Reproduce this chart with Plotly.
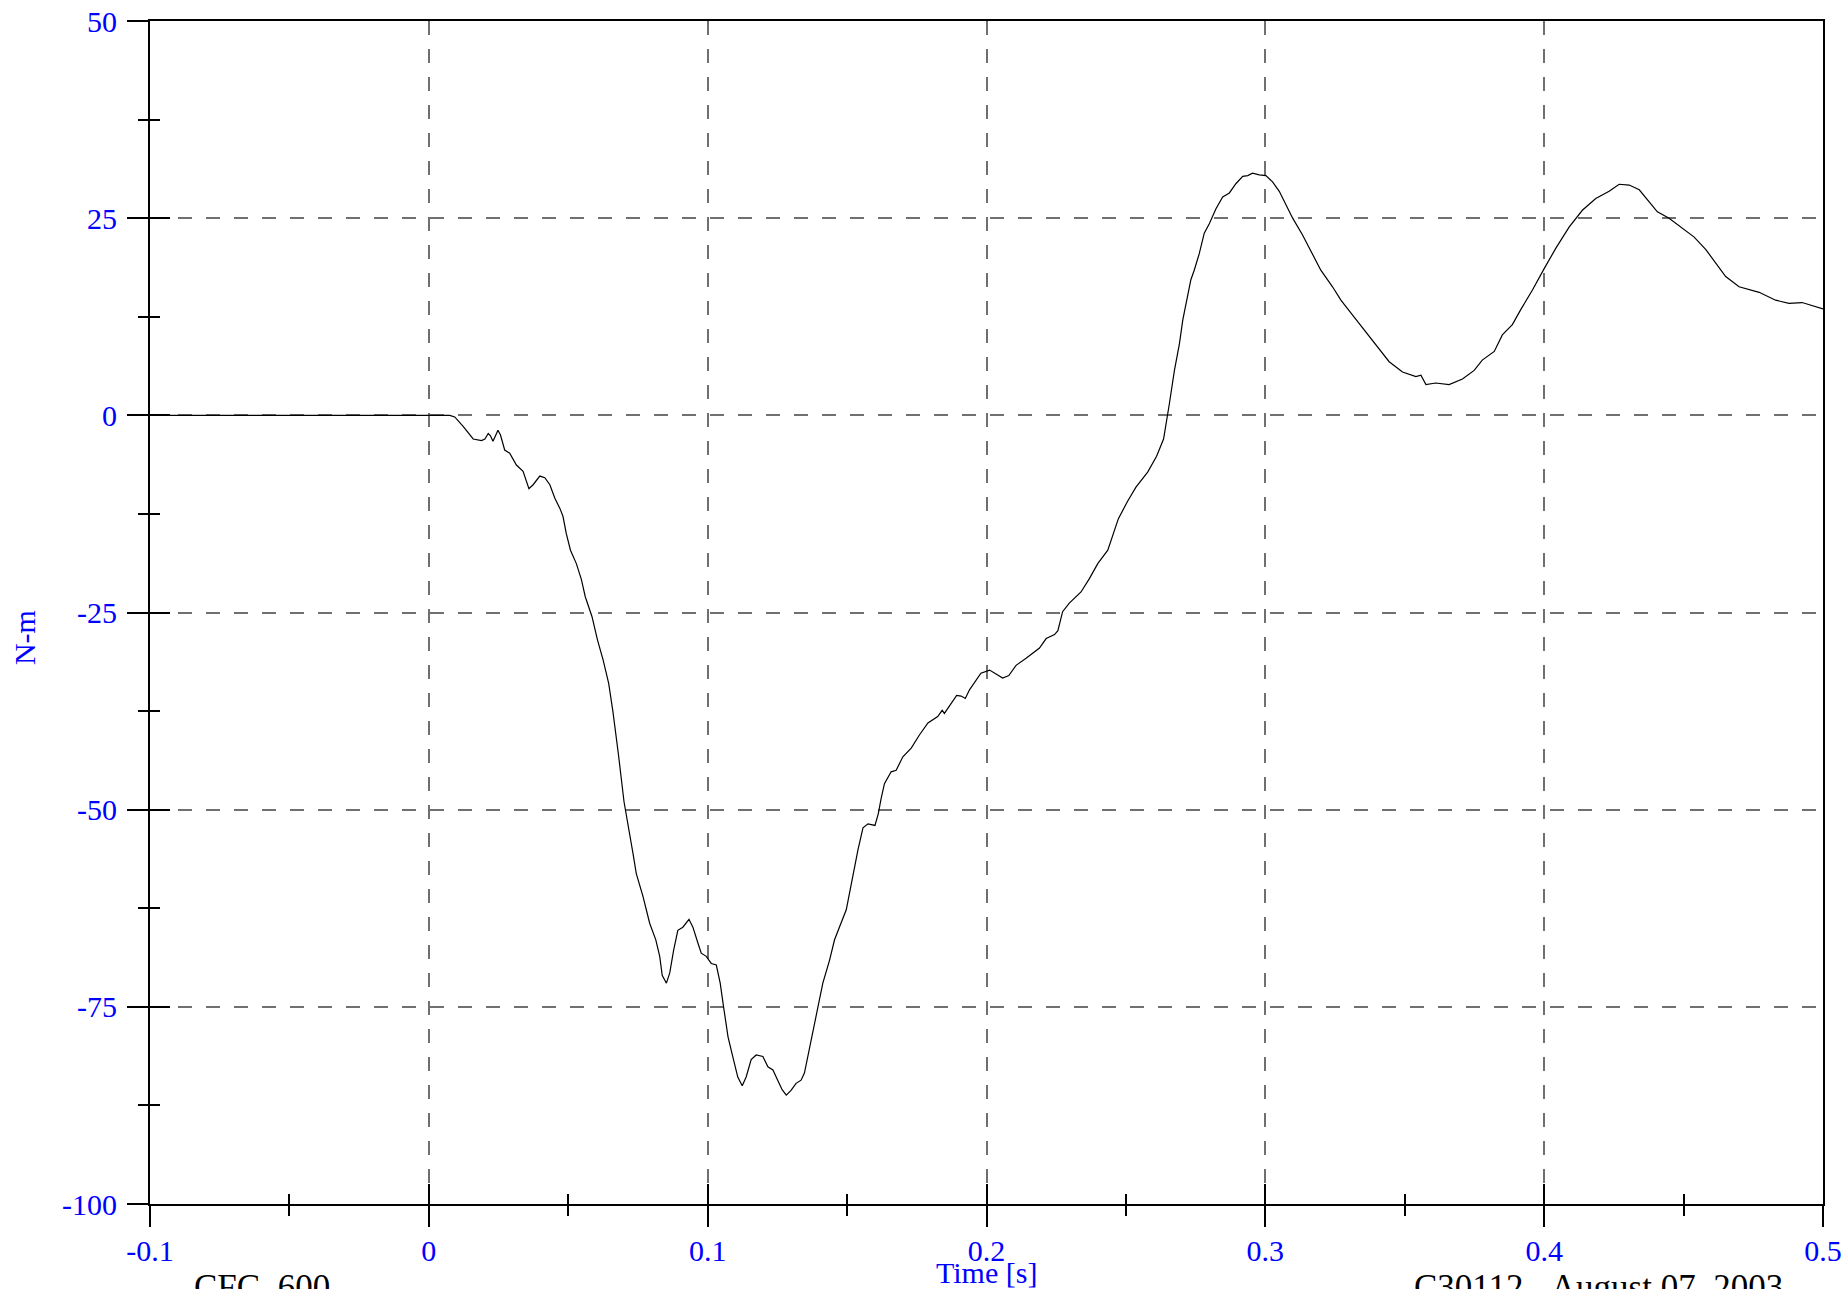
import plotly.graph_objects as go

time_s = [
    -0.1000, 0.0075, 0.0093, 0.0123, 0.0159, 0.0189, 0.0201, 0.0213, 0.0221, 0.0230,
    0.0248, 0.0257, 0.0272, 0.0290, 0.0314, 0.0338, 0.0359, 0.0374, 0.0398, 0.0416,
    0.0434, 0.0452, 0.0470, 0.0481, 0.0493, 0.0508, 0.0529, 0.0547, 0.0561, 0.0585,
    0.0605, 0.0625, 0.0645, 0.0660, 0.0680, 0.0700, 0.0732, 0.0744, 0.0768, 0.0792,
    0.0814, 0.0828, 0.0837, 0.0852, 0.0864, 0.0878, 0.0893, 0.0911, 0.0933, 0.0947,
    0.0965, 0.0977, 0.0995, 0.1013, 0.1031, 0.1045, 0.1057, 0.1073, 0.1090, 0.1108,
    0.1124, 0.1138, 0.1156, 0.1174, 0.1198, 0.1216, 0.1234, 0.1252, 0.1267, 0.1282,
    0.1299, 0.1317, 0.1335, 0.1347, 0.1366, 0.1384, 0.1395, 0.1413, 0.1437, 0.1455,
    0.1497, 0.1520, 0.1539, 0.1557, 0.1575, 0.1600, 0.1612, 0.1622, 0.1634, 0.1658,
    0.1676, 0.1700, 0.1730, 0.1760, 0.1790, 0.1825, 0.1841, 0.1849, 0.1867, 0.1893,
    0.1909, 0.1924, 0.1939, 0.1960, 0.1980, 0.2011, 0.2034, 0.2058, 0.2080, 0.2106,
    0.2142, 0.2190, 0.2214, 0.2244, 0.2256, 0.2273, 0.2297, 0.2339, 0.2369, 0.2399,
    0.2435, 0.2473, 0.2506, 0.2536, 0.2578, 0.2610, 0.2635, 0.2644, 0.2656, 0.2674,
    0.2692, 0.2704, 0.2716, 0.2733, 0.2745, 0.2763, 0.2781, 0.2799, 0.2823, 0.2847,
    0.2871, 0.2895, 0.2919, 0.2937, 0.2954, 0.2978, 0.3002, 0.3026, 0.3050, 0.3074,
    0.3098, 0.3133, 0.3169, 0.3199, 0.3241, 0.3271, 0.3313, 0.3360, 0.3409, 0.3444,
    0.3492, 0.3540, 0.3558, 0.3576, 0.3611, 0.3659, 0.3707, 0.3749, 0.3778, 0.3821,
    0.3850, 0.3886, 0.3916, 0.3958, 0.4000, 0.4042, 0.4090, 0.4137, 0.4185, 0.4233,
    0.4269, 0.4305, 0.4341, 0.4376, 0.4406, 0.4448, 0.4496, 0.4538, 0.4580, 0.4615,
    0.4651, 0.4699, 0.4771, 0.4830, 0.4878, 0.4925, 0.4961, 0.5000,
]

moment_nm = [
    0.0, 0.0, -0.2, -1.4, -3.0, -3.2, -3.0, -2.3, -2.6, -3.3,
    -1.9, -2.5, -4.4, -4.8, -6.3, -7.1, -9.3, -8.8, -7.7, -7.9,
    -8.8, -10.5, -11.8, -12.8, -15.0, -17.1, -18.8, -20.8, -23.0, -25.5,
    -28.5, -31.0, -34.0, -37.5, -43.0, -49.0, -55.5, -58.1, -61.0, -64.4,
    -66.5, -68.6, -71.0, -72.0, -70.7, -67.8, -65.3, -64.9, -63.9, -64.9,
    -66.9, -68.2, -68.6, -69.5, -69.7, -72.0, -75.0, -78.8, -81.3, -83.9,
    -85.0, -83.9, -81.7, -81.1, -81.3, -82.6, -83.0, -84.3, -85.5, -86.2,
    -85.6, -84.7, -84.3, -83.4, -80.0, -77.1, -75.0, -72.0, -69.1, -66.5,
    -62.7, -58.5, -55.1, -52.3, -51.8, -52.0, -50.5, -48.6, -46.7, -45.2,
    -45.0, -43.3, -42.2, -40.5, -39.0, -38.2, -37.4, -37.8, -36.9, -35.5,
    -35.6, -35.9, -34.8, -33.7, -32.7, -32.3, -32.8, -33.3, -33.0, -31.7,
    -30.8, -29.5, -28.3, -27.8, -27.3, -24.9, -23.8, -22.4, -20.7, -18.8,
    -17.1, -13.1, -10.9, -9.1, -7.2, -5.2, -3.0, -1.2, 1.5, 5.7,
    9.1, 12.1, 14.2, 17.2, 18.4, 20.5, 23.1, 24.3, 26.2, 27.7,
    28.2, 29.4, 30.3, 30.4, 30.7, 30.5, 30.4, 29.6, 28.4, 26.7,
    25.0, 22.9, 20.5, 18.4, 16.3, 14.6, 12.7, 10.6, 8.3, 6.8,
    5.5, 4.9, 5.1, 3.9, 4.1, 3.9, 4.6, 5.7, 7.0, 8.1,
    10.2, 11.5, 13.4, 15.9, 18.6, 21.2, 23.9, 26.0, 27.5, 28.4,
    29.3, 29.2, 28.6, 27.1, 25.8, 25.0, 23.7, 22.6, 21.0, 19.3,
    17.6, 16.3, 15.6, 14.6, 14.2, 14.3, 13.9, 13.5,
]

x_tick_vals = [-0.1, 0.0, 0.1, 0.2, 0.3, 0.4, 0.5]
x_tick_text = ["-0.1", "0", "0.1", "0.2", "0.3", "0.4", "0.5"]
x_minor_vals = [-0.05, 0.05, 0.15, 0.25, 0.35, 0.45]
y_tick_vals = [-100, -75, -50, -25, 0, 25, 50]
y_tick_text = ["-100", "-75", "-50", "-25", "0", "25", "50"]
y_minor_vals = [-87.5, -62.5, -37.5, -12.5, 12.5, 37.5]
x_range = [-0.1, 0.5]
y_range = [-100, 50]

x_title = "Time [s]"
y_title = "N-m"
filter_label = "CFC  600"
test_label = "C30112 - August 07, 2003"

FONT = "Liberation Serif"
BLUE = "#0000ff"
GRID = "#707070"
TICK_SIZE = 30

fig = go.Figure()
fig.add_trace(go.Scatter(
    x=time_s, y=moment_nm, mode="lines",
    line=dict(color="black", width=1.2),
    showlegend=False, hoverinfo="skip",
))
# invisible trace to carry the overlay axes (crossing ticks)
fig.add_trace(go.Scatter(
    x=[x_range[0]], y=[y_range[0]], xaxis="x2", yaxis="y2", mode="markers",
    marker=dict(opacity=0), showlegend=False, hoverinfo="skip",
))

fig.update_layout(
    width=1845, height=1289,
    margin=dict(l=150, r=22, t=21, b=85, autoexpand=False),
    paper_bgcolor="white", plot_bgcolor="white",
    font=dict(family=FONT, color=BLUE),
    xaxis=dict(
        range=x_range, tickmode="array", tickvals=x_tick_vals, ticktext=x_tick_text,
        ticks="outside", ticklen=21, tickwidth=2, tickcolor="black",
        ticklabelstandoff=-2, automargin=False,
        tickfont=dict(family=FONT, size=TICK_SIZE, color=BLUE),
        showline=True, linecolor="black", linewidth=2, mirror=True,
        showgrid=True, gridcolor=GRID, gridwidth=1.5, griddash="14px,14px",
        zeroline=False,
        minor=dict(tickmode="array", tickvals=x_minor_vals, ticks="outside",
                   ticklen=10, tickwidth=2, tickcolor="black", showgrid=False),
    ),
    yaxis=dict(
        range=y_range, tickmode="array", tickvals=y_tick_vals, ticktext=y_tick_text,
        ticks="outside", ticklen=21, tickwidth=2, tickcolor="black",
        ticklabelstandoff=4, automargin=False,
        tickfont=dict(family=FONT, size=TICK_SIZE, color=BLUE),
        showline=True, linecolor="black", linewidth=2, mirror=True,
        showgrid=True, gridcolor=GRID, gridwidth=1.5, griddash="14px,14px",
        zeroline=False,
        minor=dict(tickmode="array", tickvals=y_minor_vals, ticks="outside",
                   ticklen=10, tickwidth=2, tickcolor="black", showgrid=False),
    ),
    xaxis2=dict(
        range=x_range, overlaying="x", anchor="y2", side="bottom", automargin=False,
        tickmode="array", tickvals=x_tick_vals, ticks="inside", ticklen=20,
        tickwidth=2, tickcolor="black", showticklabels=False,
        showgrid=False, showline=False, zeroline=False,
        minor=dict(tickmode="array", tickvals=x_minor_vals, ticks="inside",
                   ticklen=10, tickwidth=2, tickcolor="black", showgrid=False),
    ),
    yaxis2=dict(
        range=y_range, overlaying="y", anchor="x2", side="left", automargin=False,
        tickmode="array", tickvals=y_tick_vals, ticks="inside", ticklen=20,
        tickwidth=2, tickcolor="black", showticklabels=False,
        showgrid=False, showline=False, zeroline=False,
        minor=dict(tickmode="array", tickvals=y_minor_vals, ticks="inside",
                   ticklen=10, tickwidth=2, tickcolor="black", showgrid=False),
    ),
    annotations=[
        dict(text=y_title, xref="paper", yref="paper", x=-0.0753, y=0.4784,
             xanchor="center", yanchor="middle", textangle=-90, showarrow=False,
             font=dict(family=FONT, size=30, color=BLUE)),
        dict(text=x_title, xref="paper", yref="paper", x=0.5, y=-0.0583,
             xanchor="center", yanchor="middle", showarrow=False,
             font=dict(family=FONT, size=30, color=BLUE)),
        dict(text=filter_label, xref="paper", yref="paper", x=0.0251, y=-0.0524,
             xanchor="left", yanchor="top", showarrow=False,
             font=dict(family=FONT, size=35, color="black")),
        dict(text=test_label, xref="paper", yref="paper", x=0.7543, y=-0.0524,
             xanchor="left", yanchor="top", showarrow=False,
             font=dict(family=FONT, size=35, color="black")),
    ],
)

fig.write_html(
    "out.html",
    config={"displayModeBar": False},
    post_script="document.body.style.margin='0';document.body.style.overflow='hidden';",
)
